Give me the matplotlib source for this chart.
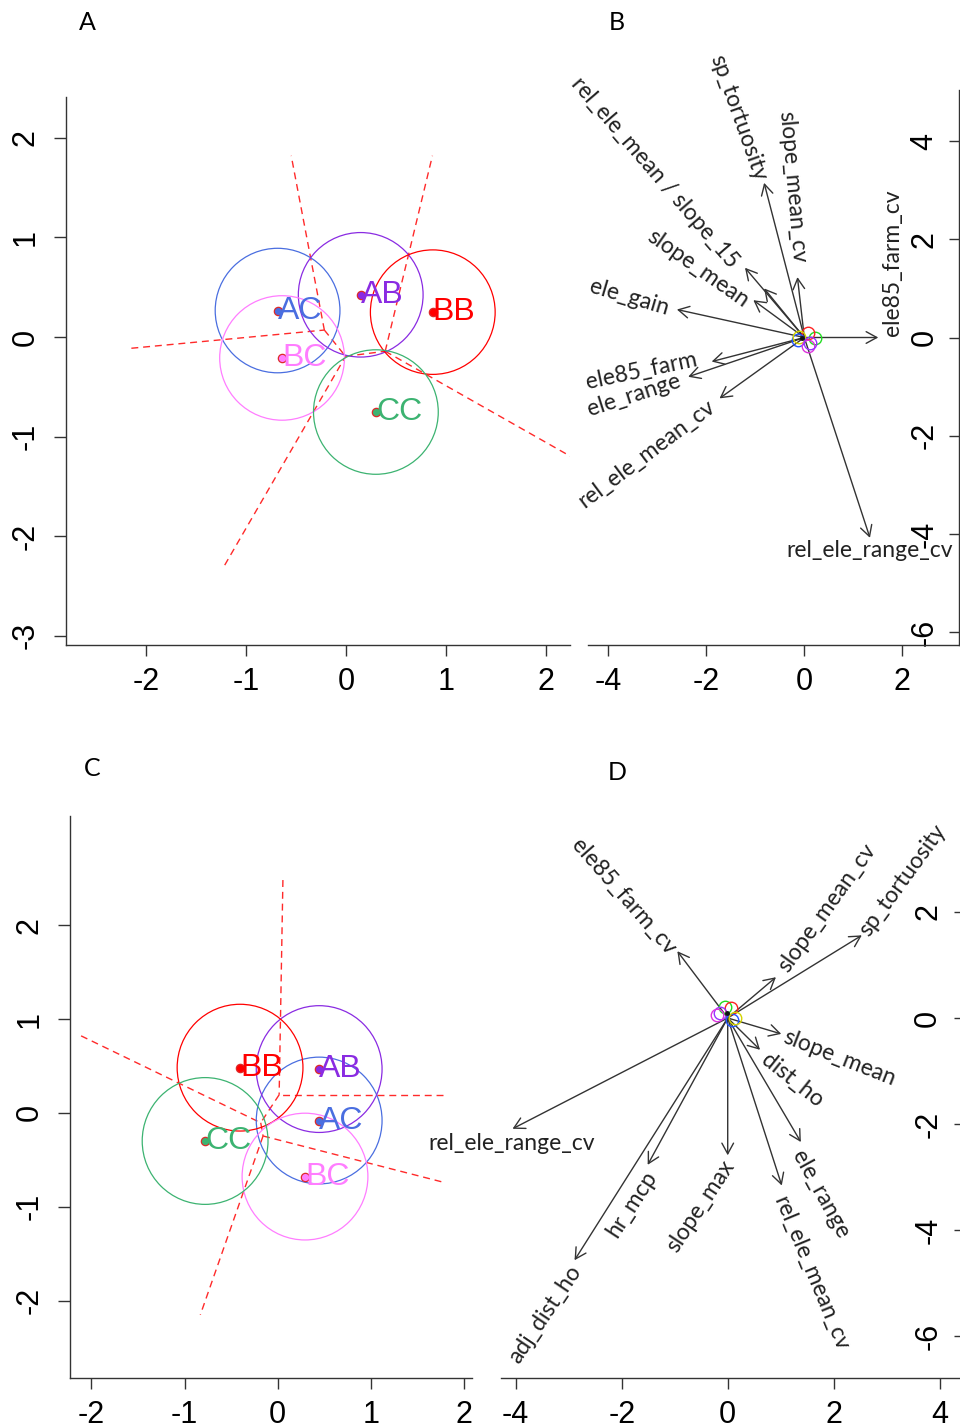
import numpy as np
import matplotlib
matplotlib.use("Agg")
import matplotlib.pyplot as plt
from matplotlib.patches import Circle

plt.rcParams["axes.unicode_minus"] = False

# ------------------------------------------------------------------ data
groups = ["AC", "AB", "BB", "BC", "CC"]
group_colors = {"AC": "#4a6ee0", "AB": "#8a2be2", "BB": "#ff0000",
                "BC": "#ff7dff", "CC": "#3cb371"}

# Panel A: group centroids (canonical scores)
a_x = [-0.685, 0.148, 0.870, -0.640, 0.300]
a_y = [0.266, 0.424, 0.250, -0.210, -0.753]
a_radius = 0.625

# Panel C: group centroids
c_x = [0.445, 0.445, -0.404, 0.293, -0.779]
c_y = [-0.081, 0.467, 0.482, -0.678, -0.299]
c_radius = 0.675

# Panel B: variable loadings (arrow tips)
b_vars = ["ele85_farm_cv", "rel_ele_range_cv", "sp_tortuosity", "slope_mean_cv",
          "rel_ele_mean", "slope_15", "slope_mean", "ele_gain", "ele85_farm",
          "ele_range", "rel_ele_mean_cv"]
b_x = [1.51, 1.34, -0.82, -0.14, -1.21, -0.82, -1.04, -2.60, -1.89, -2.37, -1.73]
b_y = [0.00, -4.08, 3.15, 1.23, 1.42, 1.00, 0.76, 0.57, -0.49, -0.80, -1.24]

b_labels = ["ele85_farm_cv", "rel_ele_range_cv", "sp_tortuosity", "slope_mean_cv",
            "rel_ele_mean / slope_15", "slope_mean", "ele_gain", "ele85_farm",
            "ele_range", "rel_ele_mean_cv"]

# Panel B: individual scores near the origin
b_pts_x = [0.22, 0.08, -0.13, -0.10, 0.08, 0.12, -0.05]
b_pts_y = [0.00, 0.09, -0.05, 0.01, -0.18, -0.12, -0.01]

# Panel D: variable loadings (arrow tips)
d_vars = ["ele85_farm_cv", "slope_mean_cv", "sp_tortuosity", "slope_mean", "dist_ho",
          "ele_range", "rel_ele_mean_cv", "slope_max", "hr_mcp", "adj_dist_ho",
          "rel_ele_range_cv"]
d_x = [-0.95, 0.91, 2.53, 1.01, 0.61, 1.38, 1.02, 0.00, -1.51, -2.89, -4.06]
d_y = [1.26, 0.77, 1.56, -0.30, -0.60, -2.34, -3.16, -2.59, -2.77, -4.57, -2.09]

# Panel D: individual scores near the origin
d_pts_x = [-0.05, 0.07, -0.15, -0.20, 0.09, 0.14, -0.02]
d_pts_y = [0.21, 0.18, 0.09, 0.06, -0.04, 0.00, 0.09]

pts_colors_b = ["#22dd22", "#ff2222", "#2255ff", "#d4d400", "#dd33dd", "#9933ff", "#111111"]
pts_colors_d = ["#22dd22", "#ff2222", "#9933ff", "#dd33dd", "#2255ff", "#d4d400", "#111111"]

# ------------------------------------------------------------------ layout (label placement)
b_lab_x = [1.81, 1.34, -1.35, -0.25, -3.05, -2.18, -3.57, -3.32, -3.47, -3.22]
b_lab_y = [1.53, -4.34, 4.48, 3.07, 3.36, 1.395, 0.817, -0.68, -1.17, -2.37]
b_lab_rot = [90, 0, -70.4, -85, -49.2, -35.1, -16.4, 11.9, 17.8, 36.9]

d_lab_x = [-1.97, 1.88, 3.30, 2.10, 1.21, 1.76, 1.57, -0.51, -1.80, -3.45, -4.07]
d_lab_y = [2.28, 2.08, 2.60, -0.755, -1.17, -3.32, -4.83, -3.55, -3.51, -5.60, -2.36]
d_lab_rot = [-48.7, 54.4, 54, -21.5, -38.7, -61.2, -67.4, 56.5, 57, 56, 0]

TICK_FONT = "Liberation Sans"
LAB_FONT = "Lato"

W, H = 960, 1425
fig = plt.figure(figsize=(W / 100, H / 100), dpi=100)


def add_ax(l, r, t, b):
    return fig.add_axes([l / W, 1 - b / H, (r - l) / W, (b - t) / H])


def voronoi_segments(xs, ys, box):
    P = np.column_stack([xs, ys]).astype(float)
    x0, x1, y0, y1 = box
    segs = []
    n = len(P)
    for i in range(n):
        for j in range(i + 1, n):
            m = (P[i] + P[j]) / 2
            dv = P[j] - P[i]
            d = np.array([-dv[1], dv[0]])
            d /= np.linalg.norm(d)
            cons = []
            for k in range(n):
                if k in (i, j):
                    continue
                g = 2 * (P[k] - P[i])
                h = P[k] @ P[k] - P[i] @ P[i]
                cons.append((g @ d, h - g @ m))
            cons += [(d[0], x1 - m[0]), (-d[0], m[0] - x0),
                     (d[1], y1 - m[1]), (-d[1], m[1] - y0)]
            lo, hi = -np.inf, np.inf
            ok = True
            for a, b in cons:
                if abs(a) < 1e-12:
                    if b < 0:
                        ok = False
                elif a > 0:
                    hi = min(hi, b / a)
                else:
                    lo = max(lo, b / a)
            if ok and lo < hi:
                segs.append((m + lo * d, m + hi * d))
    return segs


def style_common(ax):
    for s in ax.spines.values():
        s.set_visible(False)
        s.set_linewidth(1.0)
        s.set_color("#333333")
    ax.tick_params(labelsize=22, width=1.0, color="#333333", labelcolor="black")
    for lbl in ax.get_xticklabels() + ax.get_yticklabels():
        lbl.set_fontfamily(TICK_FONT)


def scores_panel(ax, xs, ys, radius, box, xlim, ylim, xticks, yticks):
    ax.set_xlim(*xlim)
    ax.set_ylim(*ylim)
    for (p, q) in voronoi_segments(xs, ys, box):
        ax.plot([p[0], q[0]], [p[1], q[1]], color="#ff2a2a", lw=1.0,
                ls=(0, (5, 3.5)), zorder=2)
    for g, x, y in zip(groups, xs, ys):
        col = group_colors[g]
        ax.add_patch(Circle((x, y), radius, fill=False, ec=col, lw=0.9, zorder=3))
        ax.plot([x], [y], "o", ms=6, mfc=col, mec="#dd2a2a", mew=0.9, zorder=4)
        ax.text(x, y, g, color=col, fontsize=23, family=TICK_FONT,
                ha="left", va="center", zorder=5)
    ax.set_xticks(xticks)
    ax.set_yticks(yticks)
    style_common(ax)
    ax.spines["left"].set_visible(True)
    ax.spines["bottom"].set_visible(True)
    ax.tick_params(axis="x", length=8, pad=8)
    ax.tick_params(axis="y", length=8.5, pad=10, labelrotation=90)
    for lbl in ax.get_yticklabels():
        lbl.set_fontfamily(TICK_FONT)
        lbl.set_va("center")


def biplot_panel(ax, vx, vy, labels, lx, ly, lrot, px, py, pcols, xlim, ylim,
                 xticks, yticks, right_spine, ypad):
    ax.set_xlim(*xlim)
    ax.set_ylim(*ylim)
    for x, y in zip(vx, vy):
        ax.annotate("", xy=(x, y), xytext=(0, 0),
                    arrowprops=dict(arrowstyle="->,head_length=0.55,head_width=0.3",
                                    mutation_scale=14, lw=1.0, color="#333333",
                                    shrinkA=0, shrinkB=0), zorder=3)
    for x, y, c in zip(px, py, pcols):
        if c == "#111111":
            ax.plot([x], [y], "o", ms=2.5, color=c, zorder=4)
        else:
            ax.plot([x], [y], "o", ms=9, mfc="none", mec=c, mew=1.0, zorder=4)
    for t, x, y, r in zip(labels, lx, ly, lrot):
        ax.text(x, y, t, rotation=r, rotation_mode="anchor", ha="center",
                va="center", fontsize=16.5, family=LAB_FONT, color="#222222", zorder=5)
    ax.set_xticks(xticks)
    ax.set_yticks(yticks)
    style_common(ax)
    ax.spines["bottom"].set_visible(True)
    ax.spines["right"].set_visible(right_spine)
    ax.yaxis.tick_right()
    ax.tick_params(axis="x", length=8, pad=8)
    ax.tick_params(axis="y", direction="in", length=7.5, pad=ypad, labelrotation=90)
    for lbl in ax.get_yticklabels():
        lbl.set_fontfamily(TICK_FONT)
        lbl.set_ha("right")
        lbl.set_va("center")


# Panel A
axA = add_ax(66, 570, 97, 645)
scores_panel(axA, a_x, a_y, a_radius, (-2.15, 2.30, -2.29, 1.82),
             (-2.805, 2.245), (-3.092, 2.41), [-2, -1, 0, 1, 2], [-3, -2, -1, 0, 1, 2])

# Panel B
axB = add_ax(588, 958.7, 90, 645)
biplot_panel(axB, b_x, b_y, b_labels, b_lab_x, b_lab_y, b_lab_rot,
             b_pts_x, b_pts_y, pts_colors_b, (-4.414, 3.151), (-6.263, 5.041),
             [-4, -2, 0, 2], [-6, -4, -2, 0, 2, 4], True, -14)

# Panel C
axC = add_ax(70, 471.7, 816, 1378)
scores_panel(axC, c_x, c_y, c_radius, (-2.11, 1.77, -2.15, 2.48),
             (-2.229, 2.082), (-2.823, 3.162), [-2, -1, 0, 1, 2], [-2, -1, 0, 1, 2])

# Panel D
axD = add_ax(500.7, 964, 815, 1378)
biplot_panel(axD, d_x, d_y, d_vars, d_lab_x, d_lab_y, d_lab_rot,
             d_pts_x, d_pts_y, pts_colors_d, (-4.283, 4.458), (-6.792, 3.83),
             [-4, -2, 0, 2, 4], [-6, -4, -2, 0, 2], False, -15)

# Panel letters
for letter, (px_, py_) in zip(["A", "B", "C", "D"],
                              [(87, 22), (617, 22), (92, 769), (617, 772)]):
    fig.text(px_ / W, 1 - py_ / H, letter, fontsize=18, family=LAB_FONT,
             ha="center", va="center", color="black")

fig.savefig("out.png", dpi=100)
